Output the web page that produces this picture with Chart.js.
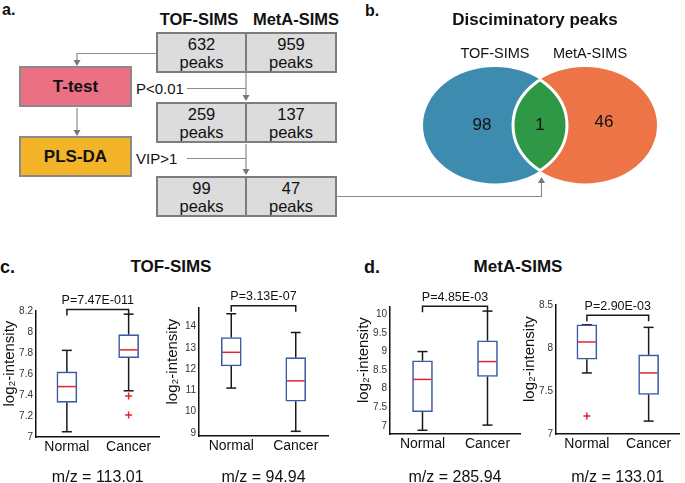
<!DOCTYPE html>
<html>
<head>
<meta charset="utf-8">
<title>SIMS discriminatory peaks</title>
<script src="https://cdn.jsdelivr.net/npm/chart.js@4.4.1/dist/chart.umd.min.js"></script>
<style>
  body { margin: 0; width: 685px; height: 483px; overflow: hidden; background: #fff; position: relative;
         font-family: "Liberation Sans", Arial, sans-serif; color: #111; }
  canvas { position: absolute; }
  .lbl { position: absolute; font-weight: bold; white-space: nowrap; line-height: 20px; }
  .ctr { position: absolute; width: 200px; text-align: center; white-space: nowrap; }
  .cell { position: absolute; box-sizing: border-box; height: 41px; background: #dcdcdc; border: 2px solid #7d7d7d;
          font-size: 16.5px; line-height: 18px; text-align: center; display: flex; align-items: center; justify-content: center; }
  .step { position: absolute; box-sizing: border-box; left: 19px; width: 113px; height: 41px; border: 2px solid #8a8a8a;
          font-weight: bold; font-size: 17px; display: flex; align-items: center; justify-content: center; }
  .rule { position: absolute; left: 136px; font-size: 15px; line-height: 18px; }
  #links { position: absolute; left: 0; top: 0; pointer-events: none; z-index: 5; }
</style>
</head>
<body>
<div class="lbl" style="left:2px;top:0px;font-size:16px">a.</div>
<div class="lbl" style="left:365px;top:1px;font-size:16px">b.</div>
<div class="lbl" style="left:0px;top:257px;font-size:18px">c.</div>
<div class="lbl" style="left:364px;top:257px;font-size:18px">d.</div>
<div class="ctr lbl" style="left:99px;top:9px;font-size:16.5px">TOF-SIMS</div>
<div class="ctr lbl" style="left:196px;top:9px;font-size:16.5px">MetA-SIMS</div>
<div class="ctr lbl" style="left:71px;top:257px;font-size:17px">TOF-SIMS</div>
<div class="ctr lbl" style="left:418px;top:257px;font-size:17px">MetA-SIMS</div>

<svg id="links" width="685" height="483">
  <g stroke="#8c8c8c" stroke-width="1.2" fill="none">
    <path d="M156,53.5 H77 V60"/>
    <path d="M77,108 V130"/>
    <path d="M187,88.5 H246 M246,73 V95"/>
    <path d="M187,158.5 H246 M246,144 V169"/>
    <path d="M337,196.5 H541.5 V183"/>
  </g>
  <g fill="#777">
    <path d="M73.5,60 L80.5,60 L77,66 Z"/>
    <path d="M73.5,130 L80.5,130 L77,136 Z"/>
    <path d="M242.5,95 L249.5,95 L246,101 Z"/>
    <path d="M242.5,169 L249.5,169 L246,175 Z"/>
    <path d="M538,183 L545,183 L541.5,177 Z"/>
  </g>
</svg>

<script>
// ---- panel a / b ----
const tofPeaks = [632, 259, 99];
const metaPeaks = [959, 137, 47];
const filterSteps = ['T-test', 'PLS-DA'];
const filterRules = ['P<0.01', 'VIP>1'];
const vennSets = ['TOF-SIMS', 'MetA-SIMS'];
const vennCounts = [98, 1, 46];

// ---- panels c / d ----
const groups = ['Normal', 'Cancer'];
const mzLabels = ['m/z = 113.01', 'm/z = 94.94', 'm/z = 285.94', 'm/z = 133.01'];
const pValues = ['P=7.47E-011', 'P=3.13E-07', 'P=4.85E-03', 'P=2.90E-03'];
// each entry: [Normal, Cancer]
const whiskerLow  = [[7.05, 7.44], [11.11, 9.08], [6.88, 7.02], [7.71, 7.15]];
const q1          = [[7.33, 7.755], [12.15, 10.49], [7.38, 8.33], [7.87, 7.46]];
const medians     = [[7.48, 7.83], [12.79, 11.45], [8.25, 8.73], [8.07, 7.71]];
const q3          = [[7.62, 7.975], [13.48, 12.54], [8.75, 9.29], [8.27, 7.92]];
const whiskerHigh = [[7.825, 8.17], [14.6, 13.72], [9.0, 10.09], [8.27, 8.24]];
const outliers    = [[[], [7.39, 7.21]], [[], []], [[], []], [[7.21], []]];
const yMin = [7, 8.86, 6.78, 7];
const yMax = [8.2, 14.87, 10.2, 8.5];
const yStep = [0.2, 1, 0.5, 0.5];
const bracketAt = [8.215, 14.97, 10.22, 8.38];

Chart.defaults.font.family = '"Liberation Sans", Arial, sans-serif';

// flow chart boxes
const rowTops = [32, 102, 176];
let addDiv = (cls, css, html) => {
  const d = document.createElement('div');
  d.className = cls;
  d.style.cssText = css;
  d.innerHTML = html;
  document.body.appendChild(d);
};
tofPeaks.forEach((n, r) => {
  addDiv('cell', `left:156px;top:${rowTops[r]}px;width:91px`, `${n}<br>peaks`);
  addDiv('cell', `left:245px;top:${rowTops[r]}px;width:92px`, `${metaPeaks[r]}<br>peaks`);
});
const stepColors = ['#ec7083', '#f4b42a'];
filterSteps.forEach((s, r) => {
  addDiv('step', `top:${[66, 136][r]}px;background:${stepColors[r]}`, s);
  addDiv('rule', `top:${[80, 150][r]}px`, filterRules[r].replace('<', '&lt;'));
});

// venn diagram
const vennDraw = {
  id: 'vennDraw',
  beforeDatasetsDraw(chart, args, o) {
    const { ctx, scales: { x, y } } = chart;
    const pts = chart.getDatasetMeta(0).data;
    const rx = x.getPixelForValue(o.radius) - x.getPixelForValue(0);
    const ry = y.getPixelForValue(0) - y.getPixelForValue(o.radius);
    const shape = i => { ctx.beginPath(); ctx.ellipse(pts[i].x, pts[i].y, rx, ry, 0, 0, Math.PI * 2); };
    ctx.save();
    shape(0); ctx.fillStyle = o.colors[0]; ctx.fill();
    shape(1); ctx.fillStyle = o.colors[1]; ctx.fill();
    ctx.strokeStyle = '#fff';
    ctx.lineWidth = 3;
    ctx.save(); shape(0); ctx.clip(); shape(1); ctx.fillStyle = o.colors[2]; ctx.fill(); ctx.stroke(); ctx.restore();
    ctx.save(); shape(1); ctx.clip(); shape(0); ctx.stroke(); ctx.restore();

    ctx.fillStyle = '#111';
    ctx.textAlign = 'center';
    ctx.textBaseline = 'middle';
    ctx.font = '14.5px "Liberation Sans", Arial, sans-serif';
    vennSets.forEach((s, i) => ctx.fillText(s, pts[i].x + i * 5, pts[i].y - ry - 13));
    const unit = x.getPixelForValue(1) - x.getPixelForValue(0);
    const cx = [pts[0].x - 0.13 * unit, (pts[0].x + pts[1].x) / 2, pts[1].x + 0.19 * unit];
    ctx.font = '17px "Liberation Sans", Arial, sans-serif';
    vennCounts.forEach((n, i) => ctx.fillText(String(n), cx[i], pts[0].y - (i === 2 ? 3 : 0)));
    ctx.restore();
  }
};

const vc = document.createElement('canvas');
vc.width = 330; vc.height = 200;
vc.style.left = '355px'; vc.style.top = '0px';
document.body.appendChild(vc);
new Chart(vc, {
  type: 'scatter',
  data: { datasets: [{ data: [{ x: -0.4, y: 0 }, { x: 0.5, y: 0 }], pointRadius: 0 }] },
  options: {
    responsive: false, animation: false, events: [],
    layout: { padding: { left: 50, right: 20, top: 0, bottom: 10 } },
    scales: {
      x: { type: 'linear', display: false, min: -1.3, max: 1.3 },
      y: { type: 'linear', display: false, min: -0.8, max: 0.8 }
    },
    plugins: {
      legend: { display: false },
      tooltip: { enabled: false },
      title: { display: true, text: 'Disciminatory peaks', color: '#111',
               font: { size: 17, weight: 'bold' }, padding: { top: 10, bottom: 30 } },
      vennDraw: { radius: 0.72, colors: ['#3e8bb0', '#ec7446', '#2e9846'] }
    }
  },
  plugins: [vennDraw]
});

// box plots
const seg = (ctx, x1, y1, x2, y2) => { ctx.beginPath(); ctx.moveTo(x1, y1); ctx.lineTo(x2, y2); ctx.stroke(); };

const boxParts = {
  id: 'boxParts',
  beforeDatasetsDraw(chart, args, o) {
    const k = o.panel;
    const { ctx, scales: { x, y } } = chart;
    const bars = chart.getDatasetMeta(0).data;
    ctx.save();
    ctx.strokeStyle = '#1a1a1a';
    ctx.lineWidth = 1.5;
    groups.forEach((g, j) => {
      const cx = x.getPixelForValue(j);
      const cap = bars[j].width / 4;
      const lo = y.getPixelForValue(whiskerLow[k][j]);
      const hi = y.getPixelForValue(whiskerHigh[k][j]);
      seg(ctx, cx, y.getPixelForValue(q1[k][j]), cx, lo);
      seg(ctx, cx, y.getPixelForValue(q3[k][j]), cx, hi);
      seg(ctx, cx - cap, lo, cx + cap, lo);
      seg(ctx, cx - cap, hi, cx + cap, hi);
    });
    ctx.restore();
  },
  afterDatasetsDraw(chart, args, o) {
    const k = o.panel;
    const { ctx, scales: { x, y } } = chart;
    const bars = chart.getDatasetMeta(0).data;
    ctx.save();
    ctx.strokeStyle = '#e3242f';
    ctx.lineWidth = 1.5;
    groups.forEach((g, j) => {
      const cx = x.getPixelForValue(j);
      const half = bars[j].width / 2;
      const md = y.getPixelForValue(medians[k][j]);
      seg(ctx, cx - half + 1, md, cx + half - 1, md);
    });
    // significance bracket
    const x0 = x.getPixelForValue(0), x1 = x.getPixelForValue(1);
    const by = y.getPixelForValue(bracketAt[k]);
    ctx.strokeStyle = '#1a1a1a';
    ctx.beginPath();
    ctx.moveTo(x0, by + 6); ctx.lineTo(x0, by); ctx.lineTo(x1, by); ctx.lineTo(x1, by + 6);
    ctx.stroke();
    ctx.fillStyle = '#111';
    ctx.font = '12.5px "Liberation Sans", Arial, sans-serif';
    ctx.textAlign = 'center';
    ctx.textBaseline = 'middle';
    ctx.fillText(pValues[k], (x0 + x1) / 2, by - 9);
    ctx.restore();
  }
};

const panels = [
  { left: 36, right: 163, top: 311, bottom: 437 },
  { left: 199, right: 328, top: 308, bottom: 436 },
  { left: 390, right: 520, top: 307, bottom: 434 },
  { left: 556, right: 683, top: 305, bottom: 434 }
];

function drawBoxPanel(k) {
  const p = panels[k];
  const cv = document.createElement('canvas');
  const left = p.left - 36;
  cv.width = p.right - left + 2;
  cv.height = 202;
  cv.style.left = left + 'px';
  cv.style.top = '285px';
  document.body.appendChild(cv);

  const outPts = [];
  groups.forEach((g, j) => outliers[k][j].forEach(v => outPts.push({ x: g, y: v })));

  new Chart(cv, {
    type: 'bar',
    data: {
      labels: groups,
      datasets: [
        { data: groups.map((g, j) => [q1[k][j], q3[k][j]]), backgroundColor: '#ffffff',
          borderColor: '#3a5ba6', borderWidth: 1.6, borderSkipped: false, barThickness: 20 },
        { type: 'scatter', data: outPts, pointStyle: 'cross', pointRadius: 3.5,
          borderColor: '#e3242f', backgroundColor: '#e3242f', borderWidth: 1.5 }
      ]
    },
    options: {
      responsive: false, animation: false, events: [],
      layout: { padding: { top: p.top - 285, right: 2, left: 0, bottom: 0 } },
      plugins: { legend: { display: false }, tooltip: { enabled: false }, boxParts: { panel: k } },
      scales: {
        x: {
          grid: { display: false, drawTicks: false },
          border: { color: '#111', width: 1.5 },
          ticks: { color: '#111', font: { size: 14 }, padding: 2 },
          title: { display: true, text: mzLabels[k], color: '#111', font: { size: 16 }, padding: 0 },
          afterFit: s => { s.height = 487 - p.bottom; }
        },
        y: {
          min: yMin[k], max: yMax[k],
          grid: { display: false, drawTicks: false },
          border: { color: '#111', width: 1.5 },
          ticks: { stepSize: yStep[k], includeBounds: false, color: '#333', font: { size: 10 }, padding: 3,
                   callback: v => String(+v.toFixed(2)) },
          // leading spaces nudge the label up a little, like the original
          title: { display: true, text: '     log₂-intensity', color: '#111', font: { size: 15 }, padding: { top: 1, bottom: 0 } },
          afterFit: s => { s.width = 36; }
        }
      }
    },
    plugins: [boxParts]
  });
}

[0, 1, 2, 3].forEach(drawBoxPanel);
</script>
</body>
</html>
